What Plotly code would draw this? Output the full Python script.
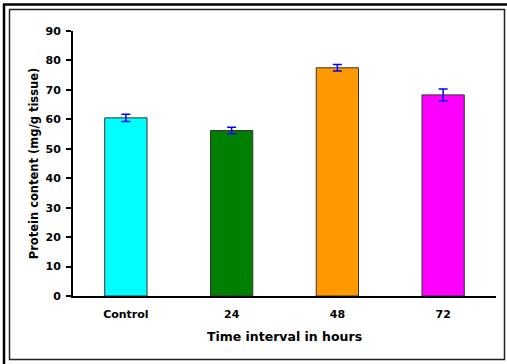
import plotly.graph_objects as go

# Protein content per time interval
categories = ["Control", "24", "48", "72"]
protein = [60.5, 56.2, 77.5, 68.3]
protein_err = [1.2, 1.1, 1.1, 2.0]
bar_colors = ["#00FFFF", "#007F00", "#FF9900", "#FF00FF"]
y_ticks = [0, 10, 20, 30, 40, 50, 60, 70, 80, 90]

W, H = 507, 364
L, R, T, B = 73, 11, 31, 68
PW, PH = W - L - R, H - T - B


def px_x(x):
    return (x - L) / PW


def px_y(y):
    return (H - B - y) / PH


fig = go.Figure(
    go.Bar(
        x=categories,
        y=protein,
        width=0.4,
        marker=dict(color=bar_colors, line=dict(color="#333333", width=1)),
        error_y=dict(
            type="data",
            array=protein_err,
            visible=True,
            color="#0000FF",
            thickness=1.5,
            width=4.5,
        ),
    )
)

font_family = "DejaVu Sans, Verdana, sans-serif"

# Page frame: thick outer stroke on the left/top and a thin inner box
shapes = [
    dict(type="line", xref="paper", yref="paper",
         x0=px_x(4), x1=px_x(4), y0=px_y(4), y1=px_y(364),
         line=dict(color="black", width=2.5)),
    dict(type="line", xref="paper", yref="paper",
         x0=px_x(3), x1=px_x(507), y0=px_y(4.5), y1=px_y(4.5),
         line=dict(color="black", width=2.5)),
    dict(type="rect", xref="paper", yref="paper",
         x0=px_x(9.5), x1=px_x(504.5), y0=px_y(9.5), y1=px_y(359.5),
         line=dict(color="#222222", width=1.5)),
]

fig.update_layout(
    width=W,
    height=H,
    margin=dict(l=L, r=R, t=T, b=B, pad=0),
    paper_bgcolor="white",
    plot_bgcolor="white",
    showlegend=False,
    bargap=0.6,
    font=dict(family=font_family, color="black"),
    shapes=shapes,
    xaxis=dict(
        type="category",
        range=[-0.5, 3.5],
        showline=True,
        linecolor="black",
        linewidth=2,
        ticks="",
        ticklabelstandoff=7,
        showgrid=False,
        tickfont=dict(size=11, family=font_family, weight="bold"),
        title=dict(
            text="<b>Time interval in hours</b>",
            font=dict(size=12.5, family=font_family),
            standoff=12,
        ),
    ),
    yaxis=dict(
        range=[0, 90],
        tickvals=y_ticks,
        showline=True,
        linecolor="black",
        linewidth=2,
        ticks="outside",
        ticklen=5,
        tickwidth=1.5,
        tickcolor="black",
        ticklabelstandoff=3,
        showgrid=False,
        zeroline=False,
        tickfont=dict(size=11, family=font_family, weight="bold"),
        title=dict(
            text="<b>Protein content (mg/g tissue)</b>",
            font=dict(size=11.5, family=font_family),
            standoff=4,
        ),
    ),
)

fig.write_html("out.html")
